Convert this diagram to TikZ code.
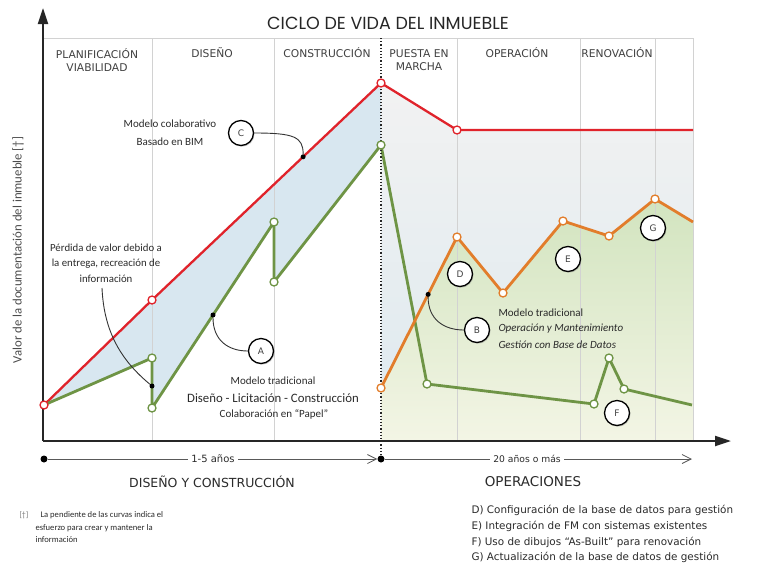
\documentclass[tikz,border=0pt]{standalone}
\usepackage{fontspec}
\setmainfont{Carlito}
\newfontfamily\capsf{DejaVu Sans}
\newfontfamily\titlef{Poppins}
\usetikzlibrary{arrows.meta,calc,shadows}
\definecolor{cred}{HTML}{E0232B}
\definecolor{cgreen}{HTML}{6E9445}
\definecolor{corange}{HTML}{E27D2B}
\definecolor{cgrid}{HTML}{D2D2D2}
\definecolor{cblue}{HTML}{D8E7F0}
\definecolor{cbluetop}{HTML}{F2F2F2}
\definecolor{cbluebot}{HTML}{DDE9EF}
\definecolor{cgreentop}{HTML}{D2E4BF}
\definecolor{cgreenbot}{HTML}{F3F5E5}
\definecolor{ctext}{HTML}{2A2A2A}
\begin{document}
\begin{tikzpicture}[x=1pt,y=-1pt,
  redline/.style={draw=cred,line width=2.3pt,line join=round},
  greenline/.style={draw=cgreen,line width=2.8pt,line join=round},
  orangeline/.style={draw=corange,line width=2.8pt,line join=round},
  mk/.style={circle,fill=white,line width=1.3pt,inner sep=0pt,minimum size=8pt},
  rmk/.style={mk,draw=cred},
  gmk/.style={mk,draw=cgreen},
  omk/.style={mk,draw=corange},
  bdot/.style={circle,fill=black,inner sep=0pt,minimum size=5pt},
  callout/.style={circle,draw=black,line width=1.3pt,fill=white,minimum size=25pt,inner sep=0pt,
    font=\capsf\fontsize{9}{9}\selectfont,text=black!75,
    drop shadow={opacity=0.35,shadow xshift=1pt,shadow yshift=-1.2pt}},
  lead/.style={draw=black!80,line width=0.9pt},
  phase/.style={font=\capsf\fontsize{10.7}{13.5}\selectfont,text=black!75,align=center},
  note/.style={font=\fontsize{11}{18}\selectfont,text=ctext,align=center},
  sep/.style={draw=cgrid,line width=0.8pt},
  axis/.style={draw=black!85,line width=2.2pt},
  tline/.style={draw=black!65,line width=0.8pt},
  legend/.style={font=\capsf\fontsize{10.4}{11}\selectfont,text=ctext,anchor=west}
]
\useasboundingbox (0,0) rectangle (768,582);

% key coordinates
\coordinate (O) at (43,441);
\coordinate (Ytop) at (43,8);
\coordinate (Xend) at (731,441);
\coordinate (R1) at (44,405);
\coordinate (R2) at (152,300);
\coordinate (R3) at (381,83);
\coordinate (R4) at (457,130);
\coordinate (R5) at (693,130);
\coordinate (G1) at (44,405);
\coordinate (G2) at (152,358);
\coordinate (G3) at (152,408);
\coordinate (G4) at (274,222);
\coordinate (G5) at (274,282);
\coordinate (G6) at (381,145);
\coordinate (G7) at (427,384);
\coordinate (G8) at (594,404);
\coordinate (G9) at (609,358);
\coordinate (G10) at (624,389);
\coordinate (G11) at (692,405);
\coordinate (O1) at (381,388);
\coordinate (O2) at (457,237);
\coordinate (O3) at (503,293);
\coordinate (O4) at (563,221);
\coordinate (O5) at (609,236);
\coordinate (O6) at (655,199);
\coordinate (O7) at (693,222);

% fills
\fill[cblue] (R1) -- (R2) -- (R3) -- (G6) -- (G5) -- (G4) -- (G3) -- (G2) -- cycle;
\fill[top color=cbluetop,bottom color=cbluebot] (R3) -- (R4) -- (R5) -- (693,441) -- (381,441) -- cycle;
\fill[top color=cgreentop,bottom color=cgreenbot] (O1) -- (O2) -- (O3) -- (O4) -- (O5) -- (O6) -- (O7) -- (693,441) -- (381,441) -- cycle;

% frame and separators
\draw[sep] (43,38) -- (693,38);
\foreach \x in {152,274,457,580,655,693} \draw[sep] (\x,38) -- (\x,441);

% title and phases
\node[font=\titlef\fontsize{17.5}{20}\selectfont,text=black!85] (title) at (388,23) {CICLO DE VIDA DEL INMUEBLE};
\node[phase] (ph1) at (97,60) {PLANIFICACIÓN\\VIABILIDAD};
\node[phase] (ph2) at (212,53) {DISEÑO};
\node[phase] (ph3) at (327,53) {CONSTRUCCIÓN};
\node[phase] (ph4) at (419,60) {PUESTA EN\\MARCHA};
\node[phase] (ph5) at (517,53) {OPERACIÓN};
\node[phase] (ph6) at (617,53) {RENOVACIÓN};

% axis label
\node[rotate=90,font=\fontsize{12.8}{14}\selectfont,text=black!70] (ylab) at (18,250) {Valor de la documentación del inmueble [†]};

% curves
\draw[redline] (R1) -- (R2) -- (R3) -- (R4) -- (R5);
\draw[greenline] (G1) -- (G2) -- (G3) -- (G4) -- (G5) -- (G6) -- (G7) -- (G8) -- (G9) -- (G10) -- (G11);
\draw[orangeline] (O1) -- (O2) -- (O3) -- (O4) -- (O5) -- (O6) -- (O7);

% dotted divider and axes
\coordinate (Dtop) at (381,38);
\node[bdot,minimum size=7pt] (T1) at (44,459) {};
\node[bdot,minimum size=7pt] (T2) at (381,459) {};
\coordinate (T3) at (692,459);
\draw[black!85,line width=1.2pt,dotted] (Dtop) -- (T2);
\draw[axis,-{Triangle[length=16pt,width=10pt]}] (O) -- (Ytop);
\draw[axis,-{Triangle[length=16pt,width=10pt]}] (O) -- (Xend);

% markers
\foreach \p in {R1,R2,R3,R4} \node[rmk] (m\p) at (\p) {};
\foreach \p in {G2,G3,G4,G5,G6,G7,G8,G9,G10} \node[gmk] (m\p) at (\p) {};
\foreach \p in {O1,O2,O3,O4,O5,O6} \node[omk] (m\p) at (\p) {};

% annotation dots
\node[bdot] (dC) at ($(R2)!0.66!(R3)$) {};
\node[bdot] (dA) at ($(G3)!0.5!(G4)$) {};
\node[bdot] (dP) at ($(G2)!0.56!(G3)$) {};
\node[bdot] (dB) at ($(O1)!0.62!(O2)$) {};

% callouts
\node[callout] (cA) at (261,351) {A};
\node[callout] (cB) at (477,330) {B};
\node[callout] (cC) at (241,133) {C};
\node[callout] (cD) at (460,274) {D};
\node[callout] (cE) at (568,259) {E};
\node[callout] (cF) at (617,413) {F};
\node[callout] (cG) at (653,228) {G};

% annotation texts
\node[note] (tC) at (170,133) {Modelo colaborativo\\Basado en BIM};
\node[note,font=\fontsize{10.8}{15.5}\selectfont] (tP) at (106,263) {Pérdida de valor debido a\\la entrega, recreación de\\información};
\node[note,font=\fontsize{11}{12}\selectfont] (tA1) at (273,381) {Modelo tradicional};
\node[note,font=\fontsize{12.8}{14}\selectfont] (tA2) at (273,398) {Diseño - Licitación - Construcción};
\node[note,font=\fontsize{11}{12}\selectfont] (tA3) at (274,414) {Colaboración en “Papel”};
\node[note,anchor=west,font=\fontsize{11}{12}\selectfont] (tB1) at (495,313) {Modelo tradicional};
\node[note,anchor=west,font=\itshape\fontsize{11}{12}\selectfont] (tB2) at (495,329) {Operación y Mantenimiento};
\node[note,anchor=west,font=\itshape\fontsize{11}{12}\selectfont] (tB3) at (495,345) {Gestión con Base de Datos};

% leaders
\coordinate (pS) at (102,288);
\draw[lead] (pS) .. controls +(2,45) and +(-30,-25) .. (dP);
\draw[lead] (dA) .. controls +(0,25) and +(-20,0) .. (cA.west);
\draw[lead] (cC.east) .. controls +(40,0) and +(0,-20) .. (dC);
\draw[lead] (dB) .. controls +(0,25) and +(-20,0) .. (cB.west);

% timeline
\node[font=\capsf\fontsize{10}{11}\selectfont,text=ctext] (y1) at (213,459) {1-5 años};
\node[font=\capsf\fontsize{9.2}{11}\selectfont,text=ctext] (y2) at (527,459) {20 años o más};
\draw[tline] (T1) -- (y1.west);
\draw[tline,-{Straight Barb[length=9pt,width=9pt]}] (y1.east) -- (T2);
\draw[tline] (T2) -- (y2.west);
\draw[tline,-{Straight Barb[length=9pt,width=9pt]}] (y2.east) -- (T3);
\node[font=\capsf\fontsize{12.5}{13}\selectfont,text=ctext] (s1) at (212,482) {DISEÑO Y CONSTRUCCIÓN};
\node[font=\capsf\fontsize{13.5}{14}\selectfont,text=ctext] (s2) at (533,482) {OPERACIONES};

% footnote
\node[font=\fontsize{8}{9}\selectfont,text=black!55,anchor=west] (fn0) at (16,515) {[†]};
\node[font=\fontsize{8.6}{12.5}\selectfont,text=ctext,anchor=north west,align=left] (fn1) at (32,508) {\hspace*{5pt}La pendiente de las curvas indica el\\esfuerzo para crear y mantener la\\información};

% legend
\node[legend] (lD) at (468,510) {D) Configuración de la base de datos para gestión};
\node[legend] (lE) at (468,526) {E) Integración de FM con sistemas existentes};
\node[legend] (lF) at (468,542) {F) Uso de dibujos “As-Built” para renovación};
\node[legend] (lG) at (468,557) {G) Actualización de la base de datos de gestión};
\end{tikzpicture}
\end{document}
